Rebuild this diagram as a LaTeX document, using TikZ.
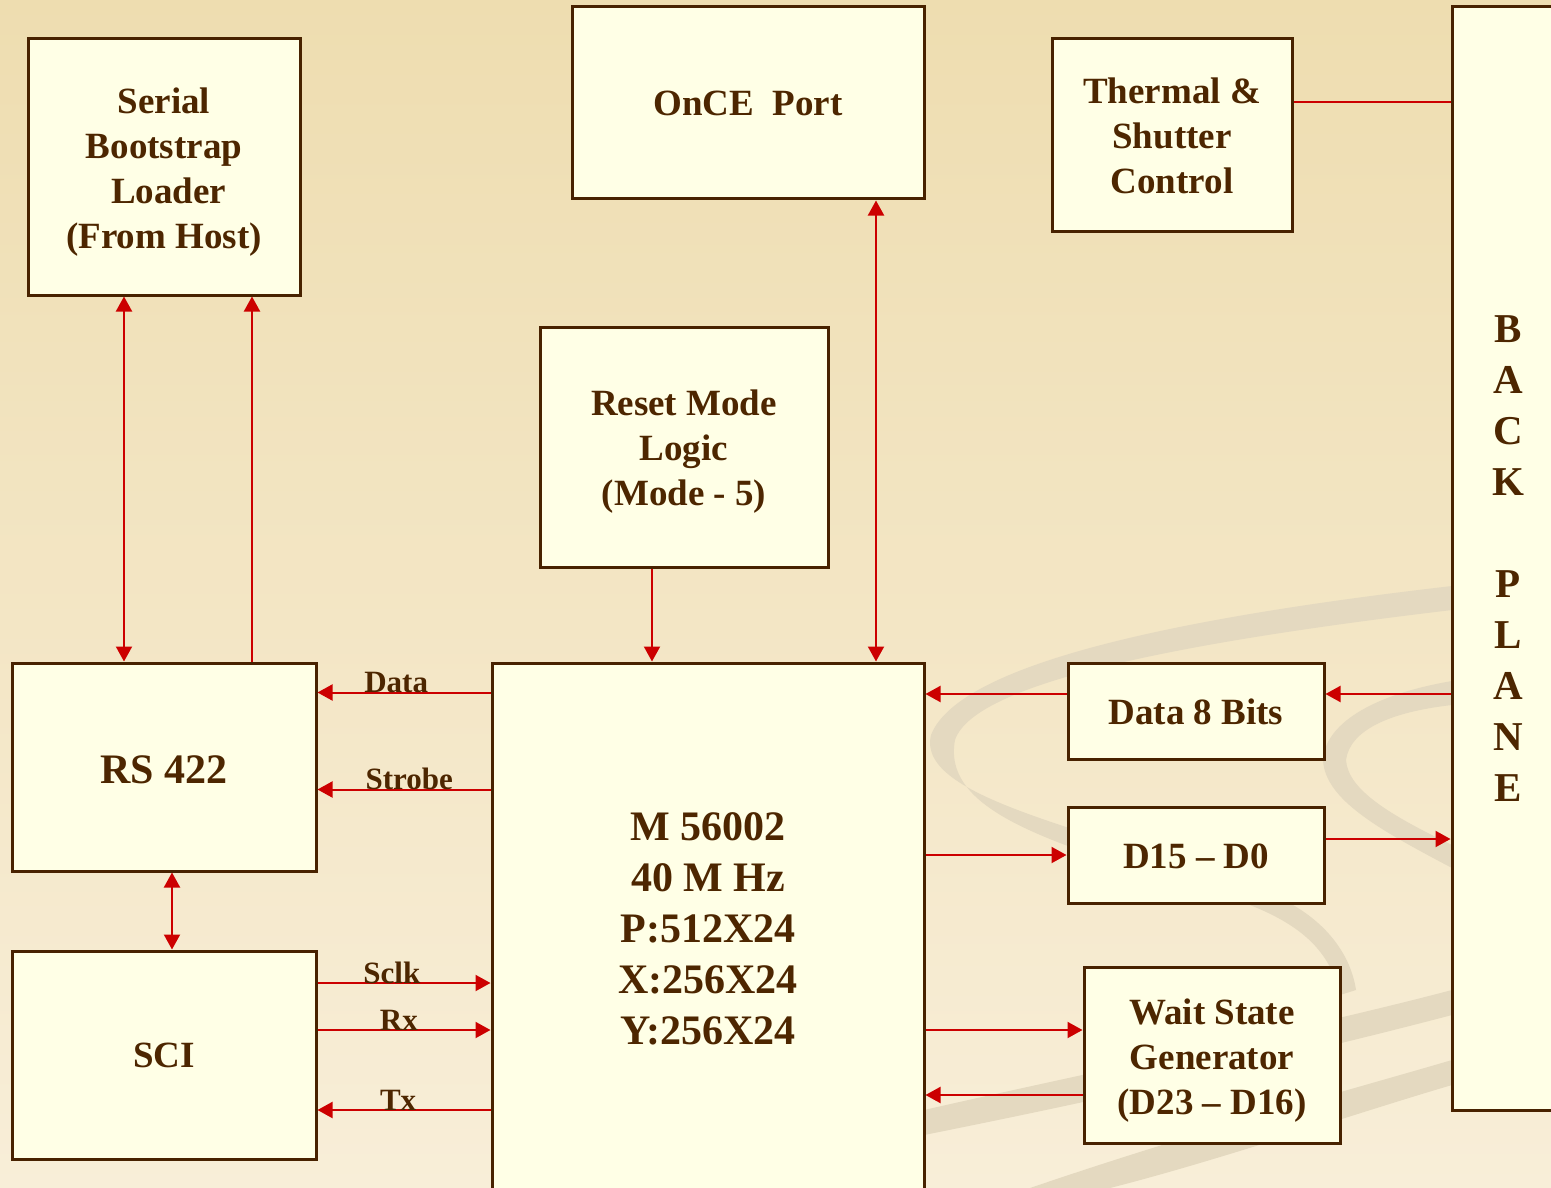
\documentclass[tikz,border=0pt]{standalone}
\usepackage{fontspec}
\setmainfont{Liberation Serif}
\usetikzlibrary{arrows.meta}

\definecolor{ink}{RGB}{77,38,0}
\definecolor{boxline}{RGB}{72,34,0}
\definecolor{boxfill}{RGB}{255,255,230}
\definecolor{linkred}{RGB}{204,0,0}
\definecolor{bgtop}{RGB}{238,221,176}
\definecolor{bgmid}{RGB}{246,235,208}
\definecolor{bgbot}{RGB}{248,238,216}
\definecolor{swirl}{RGB}{228,217,192}

% strut to push box text a little down
\newcommand{\topstrut}[1]{\rule{0pt}{#1}}

\tikzset{
  blk/.style={draw=boxline, line width=3pt, fill=boxfill, text=ink,
    align=center, inner sep=0pt, font=\fontsize{37}{45}\selectfont\bfseries},
  link/.style={draw=linkred, line width=2pt, >={Triangle[length=15pt,width=16pt]}},
  sig/.style={text=ink, anchor=base, font=\fontsize{31}{36}\selectfont\bfseries},
}

\begin{document}
\begin{tikzpicture}[x=1pt,y=-1pt]
\useasboundingbox (0,0) rectangle (1551,1188);
\shade[top color=bgtop, middle color=bgmid, bottom color=bgbot] (0,0) rectangle (1551,1188);

% swirl in the background
\fill[swirl] (1452,586) .. controls (1200,615) and (960,660) .. (931,735)
  .. controls (915,800) and (1100,830) .. (1273,895)
  .. controls (1320,915) and (1350,950) .. (1356,990) -- (1340,995)
  .. controls (1330,950) and (1300,925) .. (1250,905)
  .. controls (1080,850) and (940,820) .. (955,740)
  .. controls (975,680) and (1200,640) .. (1452,610) -- cycle;
\fill[swirl] (1452,681) .. controls (1370,695) and (1325,725) .. (1323,760)
  .. controls (1325,800) and (1380,830) .. (1452,868) -- (1452,845)
  .. controls (1390,815) and (1348,790) .. (1346,760)
  .. controls (1350,730) and (1390,712) .. (1452,705) -- cycle;
\fill[swirl] (924,1110) .. controls (1100,1070) and (1300,1030) .. (1452,990) -- (1452,1015)
  .. controls (1300,1055) and (1100,1100) .. (924,1135) -- cycle;
\fill[swirl] (1030,1188) .. controls (1200,1130) and (1350,1090) .. (1452,1060) -- (1452,1085)
  .. controls (1350,1115) and (1220,1160) .. (1110,1188) -- cycle;

% blocks
\node[blk, minimum width=272, minimum height=256] (serial) at (164,167) {\topstrut{36pt}Serial\\Bootstrap\\\ Loader\\(From Host)};
\node[blk, minimum width=352, minimum height=192] (once) at (748,103) {OnCE\ \ Port};
\node[blk, minimum width=240, minimum height=192] (thermal) at (1172,135) {\topstrut{28pt}Thermal \&\\Shutter\\Control};
\node[blk, minimum width=288, minimum height=240] (reset) at (684,447) {\topstrut{35pt}Reset Mode\\Logic\\(Mode - 5)};
\node[blk, minimum width=304, minimum height=208, font=\fontsize{42}{50}\selectfont\bfseries] (rs) at (164,767) {\topstrut{34pt}RS 422};
\node[blk, minimum width=304, minimum height=208] (sci) at (164,1055) {SCI};
\node[blk, minimum width=432, minimum height=531, font=\fontsize{42}{51}\selectfont\bfseries] (m) at (708,928.5) {M 56002\\40 M Hz\\P:512X24\\X:256X24\\Y:256X24};
\node[blk, minimum width=256, minimum height=96] (d8) at (1196,711) {\topstrut{28pt}Data 8 Bits};
\node[blk, minimum width=256, minimum height=96] (d15) at (1196,855) {\topstrut{28pt}D15 -- D0};
\node[blk, minimum width=256, minimum height=176] (wait) at (1212,1055) {\topstrut{36pt}Wait State\\Generator\\(D23 -- D16)};
\node[blk, minimum width=112, minimum height=1103, font=\fontsize{41}{51}\selectfont\bfseries] (back) at (1508,558.5) {B\\A\\C\\K\\[51pt]P\\L\\A\\N\\E};

% connectors
\draw[link,<->] ([xshift=-40pt]serial.south) -- ([xshift=-40pt]rs.north);
\draw[link,->] ([xshift=88pt]rs.north) -- ([xshift=88pt]serial.south);
\draw[link,<->] ([xshift=128pt]once.south) -- ([xshift=128pt]once.south |- m.north);
\draw[link,->] ([xshift=-32pt]reset.south) -- ([xshift=-32pt]reset.south |- m.north);
\draw[link] ([yshift=33pt]thermal.east) -- ([yshift=33pt]thermal.east -| back.west);

\draw[link,->] ([yshift=-31pt]m.north west) -- node[sig,pos=0.545]{Data} ([yshift=-31pt]m.north west -| rs.east);
\draw[link,->] ([yshift=-128pt]m.north west) -- node[sig,pos=0.47]{Strobe} ([yshift=-128pt]m.north west -| rs.east);
\draw[link,<->] ([xshift=8pt]rs.south) -- ([xshift=8pt]sci.north);
\draw[link,->] ([yshift=72pt]sci.east) -- node[sig,pos=0.43]{Sclk} ([yshift=72pt]sci.east -| m.west);
\draw[link,->] ([yshift=25pt]sci.east) -- node[sig,pos=0.47]{Rx} ([yshift=25pt]sci.east -| m.west);
\draw[link,->] ([yshift=-55pt]sci.east -| m.west) -- node[sig,pos=0.534]{Tx} ([yshift=-55pt]sci.east);

\draw[link,->] ([yshift=17pt]d8.west) -- ([yshift=17pt]d8.west -| m.east);
\draw[link,->] ([yshift=17pt]d8.east -| back.west) -- ([yshift=17pt]d8.east);
\draw[link,->] (d15.west -| m.east) -- (d15.west);
\draw[link,->] ([yshift=16pt]d15.east) -- ([yshift=16pt]d15.east -| back.west);
\draw[link,->] ([yshift=25pt]wait.west -| m.east) -- ([yshift=25pt]wait.west);
\draw[link,->] ([yshift=-40pt]wait.west) -- ([yshift=-40pt]wait.west -| m.east);
\end{tikzpicture}
\end{document}
